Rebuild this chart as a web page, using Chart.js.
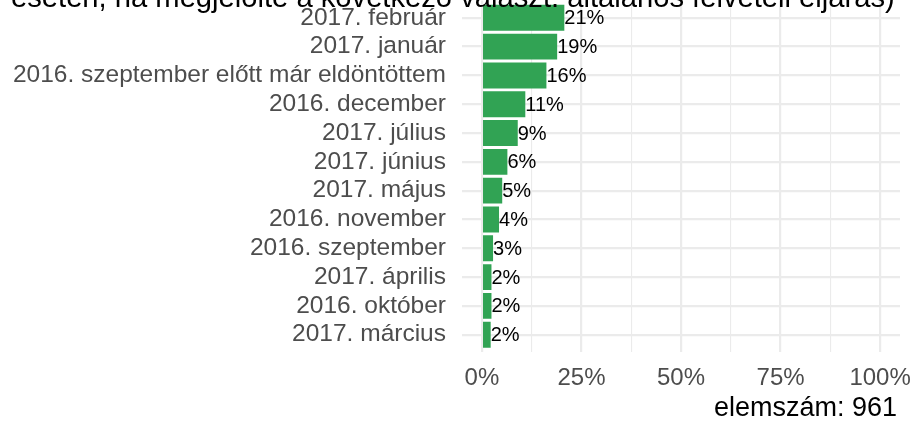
<!DOCTYPE html>
<html>
<head>
<meta charset="utf-8">
<script src="https://cdn.jsdelivr.net/npm/chart.js@4.4.1/dist/chart.umd.min.js"></script>
<style>
html,body{margin:0;padding:0;background:#fff;}
#wrap{width:911px;height:421px;position:relative;}
</style>
</head>
<body>
<div id="wrap"><canvas id="c" width="911" height="421"></canvas></div>
<script>
const titleText = 'esetén, ha megjelölte a következő választ: általános felvételi eljárás)';
const noteText = 'elemszám: 961';
const categories = [
  '2017. február',
  '2017. január',
  '2016. szeptember előtt már eldöntöttem',
  '2016. december',
  '2017. július',
  '2017. június',
  '2017. május',
  '2016. november',
  '2016. szeptember',
  '2017. április',
  '2016. október',
  '2017. március'
];
const values = [20.7, 18.9, 16.2, 10.9, 9.0, 6.4, 5.1, 4.3, 2.8, 2.4, 2.4, 2.2];
const valueLabels = ['21%','19%','16%','11%','9%','6%','5%','4%','3%','2%','2%','2%'];
const xMajorTicks = [0, 25, 50, 75, 100];
const xMinorTicks = [12.5, 37.5, 62.5, 87.5];

const FONT = '"Liberation Sans", Arial, Helvetica, sans-serif';
const GRID = '#ebebeb';

const points = categories.map((c, i) => ({ x: values[i], y: i }));
const allXTicks = xMajorTicks.concat(xMinorTicks).sort((a, b) => a - b);

const overlay = {
  id: 'overlay',
  afterDatasetsDraw(chart) {
    const ctx = chart.ctx;
    const meta = chart.getDatasetMeta(0);
    ctx.save();
    ctx.fillStyle = '#000';
    ctx.font = '20px ' + FONT;
    ctx.textAlign = 'left';
    ctx.textBaseline = 'middle';
    meta.data.forEach((bar, i) => {
      ctx.fillText(valueLabels[i], bar.x, bar.y + 1);
    });
    ctx.restore();
  },
  afterDraw(chart) {
    const ctx = chart.ctx;
    ctx.save();
    ctx.fillStyle = '#000';
    let size = 26;
    ctx.font = size + 'px ' + FONT;
    const w = ctx.measureText(titleText).width;
    size = size * 884 / w;
    ctx.font = size + 'px ' + FONT;
    ctx.textAlign = 'left';
    ctx.textBaseline = 'alphabetic';
    ctx.fillText(titleText, 11, 6.5);
    ctx.font = '27px ' + FONT;
    ctx.textAlign = 'right';
    ctx.fillText(noteText, 897, 416);
    ctx.restore();
  }
};

new Chart(document.getElementById('c'), {
  type: 'bar',
  data: {
    datasets: [{
      data: points,
      backgroundColor: '#31a354',
      borderWidth: 0,
      barPercentage: 0.9,
      categoryPercentage: 1.0
    }]
  },
  options: {
    indexAxis: 'y',
    responsive: false,
    animation: false,
    layout: { padding: { left: 0, right: 11, top: 0.5, bottom: 0 } },
    plugins: { legend: { display: false }, tooltip: { enabled: false }, title: { display: false } },
    scales: {
      x: {
        type: 'linear',
        min: -5,
        max: 105,
        offset: false,
        afterBuildTicks(scale) {
          scale.ticks = allXTicks.map(v => ({ value: v }));
        },
        afterFit(scale) {
          scale.height = 69;
          scale.paddingLeft = 0; scale.paddingRight = 0;
          scale.paddingTop = 0; scale.paddingBottom = 0;
        },
        border: { display: false },
        grid: {
          color: GRID,
          offset: false,
          drawTicks: false,
          lineWidth: ctx => (ctx.tick && xMajorTicks.includes(ctx.tick.value)) ? 2.2 : 1.1
        },
        ticks: {
          autoSkip: false,
          maxRotation: 0,
          padding: 12,
          color: '#4d4d4d',
          font: { family: FONT, size: 24 },
          callback: v => xMajorTicks.includes(v) ? v + '%' : ''
        }
      },
      y: {
        type: 'linear',
        reverse: true,
        offset: false,
        min: -0.6,
        max: categories.length - 0.4,
        afterBuildTicks(scale) {
          scale.ticks = categories.map((c, i) => ({ value: i }));
        },
        afterFit(scale) {
          scale.width = 462;
          scale.paddingLeft = 0; scale.paddingRight = 0;
          scale.paddingTop = 0; scale.paddingBottom = 0;
        },
        border: { display: false },
        grid: { color: GRID, offset: false, drawTicks: false, lineWidth: 2.2 },
        ticks: {
          autoSkip: false,
          padding: 16,
          color: '#4d4d4d',
          font: { family: FONT, size: 24.5 },
          callback: v => categories[v]
        }
      }
    }
  },
  plugins: [overlay]
});
</script>
</body>
</html>
